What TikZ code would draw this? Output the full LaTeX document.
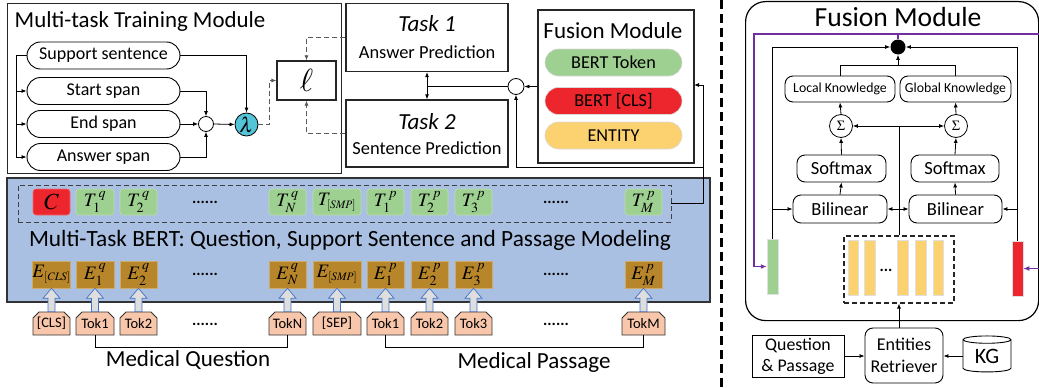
\documentclass[tikz,border=0pt]{standalone}
\usepackage{mathptmx}
\usepackage[no-math]{fontspec}
\setmainfont{Carlito}
\usetikzlibrary{arrows.meta,shapes.misc,shapes.geometric,calc}
\definecolor{bluebg}{RGB}{170,192,226}
\definecolor{tokgreen}{RGB}{158,208,145}
\definecolor{tokred}{RGB}{236,38,44}
\definecolor{tokyellow}{RGB}{252,210,112}
\definecolor{embgold}{RGB}{184,134,42}
\definecolor{toksalmon}{RGB}{248,198,170}
\definecolor{lamcyan}{RGB}{84,196,216}
\definecolor{purp}{RGB}{112,48,160}
\definecolor{arrblue}{RGB}{68,114,196}
\definecolor{dashgray}{RGB}{90,90,90}
\newcommand\fsz[1]{\fontsize{#1}{#1}\selectfont}
\newcommand\blockup[2]{%
  \path[draw=arrblue,fill=black!13,line width=0.7pt] let \p1=(#1.north), \p2=(#2.south) in
   (\x1-3.5pt,\y1) -- (\x1-3.5pt,\y2-10pt) -- (\x1-8.5pt,\y2-10pt) -- (\x1,\y2) --
   (\x1+8.5pt,\y2-10pt) -- (\x1+3.5pt,\y2-10pt) -- (\x1+3.5pt,\y1) -- cycle;}
\newcommand\ssub[1]{_{\scriptscriptstyle[\mathit{#1}]}}
\begin{document}
\begin{tikzpicture}[x=1pt,y=-1pt,
  >={Latex[length=5pt,width=4pt]},
  line width=0.8pt,
  box/.style={draw=black!85,line width=1.3pt,inner sep=0pt},
  pill/.style={draw,line width=0.9pt,rounded corners=13.5pt,minimum width=153pt,minimum height=27pt,inner sep=0pt,font=\fsz{18}},
  fpill/.style={draw=black!15,line width=0.6pt,rounded corners=13.5pt,minimum width=137pt,minimum height=27pt,inner sep=0pt,font=\fsz{18.2}},
  ttok/.style={fill=tokgreen,draw=tokgreen!70!white,line width=0.6pt,rounded corners=3pt,minimum height=26pt,inner sep=0pt,font=\fsz{19}},
  etok/.style={fill=embgold,draw=embgold!70!white,line width=0.6pt,minimum height=27pt,inner sep=0pt,font=\fsz{19}},
  ktok/.style={chamfered rectangle,chamfered rectangle corners={north west,north east},chamfered rectangle xsep=3pt,chamfered rectangle ysep=3pt,fill=toksalmon,draw=black!80,line width=0.8pt,minimum height=23pt,inner sep=0pt,font=\fsz{14.5}},
  dotsl/.style={font=\fsz{16}\bfseries},
  dsh/.style={draw=dashgray,dash pattern=on 5pt off 3pt,line width=0.9pt},
  rbox/.style={draw,line width=0.9pt,rounded corners=8pt,inner sep=0pt},
  bar/.style={draw=black!12,line width=0.5pt,inner sep=0pt}
]
\useasboundingbox (0,0) rectangle (1039,388);
% ---------------- Multi-task training module
\node[box,minimum width=334pt,minimum height=170pt,anchor=north west] (mtm) at (7,3) {};
\node[anchor=west,font=\fsz{22.9}] (mtmt) at (11,22) {Multi-task Training Module};
\node[pill] (ss) at (103.5,55.5) {Support sentence};
\node[pill] (st) at (103.5,91) {Start span};
\node[pill] (es) at (103.5,124) {End span};
\node[pill] (as) at (103.5,157) {Answer span};
\coordinate (bus) at (16,55.5);
\draw (ss.west) -- (bus) -- (bus |- as) edge[->] (as.west);
\draw[->] (bus |- st) -- (st.west);
\draw[->] (bus |- es) -- (es.west);
\node[circle,draw,line width=0.8pt,minimum size=15pt,inner sep=0pt] (o1) at (206,124) {};
\node[circle,draw,line width=0.8pt,fill=lamcyan,minimum size=23pt,inner sep=0pt,font=\fsz{21}] (lam) at (246.5,124.5) {$\lambda$};
\draw[->] (ss.east) -| (lam.north);
\draw[->] (st.east) -| (o1.north);
\draw[->] (as.east) -| (o1.south);
\draw[->] (es.east) -- (o1.west);
\draw[->] (o1.east) -- (lam.west);
\node[box,line width=1.1pt,minimum width=59pt,minimum height=39pt,font=\fsz{32}] (lbox) at (306.5,80.5) {$\ell$};
% ---------------- tasks
\node[box,minimum width=162pt,minimum height=68pt] (task1) at (427,37.5) {};
\node[font=\fsz{23}\itshape] (t1a) at (427,24) {Task 1};
\node[font=\fsz{18.4}] (t1b) at (427,52) {Answer Prediction};
\node[box,minimum width=162pt,minimum height=67pt] (task2) at (427,133.5) {};
\node[font=\fsz{23}\itshape] (t2a) at (427,122) {Task 2};
\node[font=\fsz{18.4}] (t2b) at (427,148) {Sentence Prediction};
\draw[dsh,->] (task1.west) -| (lbox.north);
\draw[dsh,->] (task2.west) -| (lbox.south);
\draw[dsh,->] (lam.east) -- ++(11,0) |- (lbox.west);
\draw[<->] (task1.south) -- (task2.north);
% ---------------- middle fusion module
\node[box,minimum width=156pt,minimum height=153pt] (fus) at (616,86.5) {};
\node[font=\fsz{23}] (fust) at (613,31) {Fusion Module};
\node[fpill,fill=tokgreen] (fp1) at (613.5,62.5) {BERT Token};
\node[fpill,fill=tokred] (fp2) at (613.5,101) {BERT [CLS]};
\node[fpill,fill=tokyellow] (fp3) at (613.5,135.5) {ENTITY};
\node[circle,draw,line width=0.8pt,minimum size=16pt,inner sep=0pt,fill=white] (o2) at (516,86.5) {};
\coordinate (tj) at (427,86.5);
\draw (tj) -- (o2.west);
\draw[->] (fus.west) -- (o2.east);
% ---------------- BERT block
\node[fill=bluebg,draw=black!80,line width=1.3pt,minimum width=703pt,minimum height=124pt,inner sep=0pt] (bert) at (358.5,240) {};
\node[dsh,draw=black!75,minimum width=653pt,minimum height=37pt,inner sep=0pt] (trow) at (344.5,203.5) {};
\node[font=\fsz{23.3}] (bertt) at (350,240) {Multi-Task BERT: Question, Support Sentence and Passage Modeling};
\foreach \i/\x/\w/\t/\e in {
 2/95/38/{$T_1^{\,q}$}/{$E_1^{\,q}$},
 3/138.5/37/{$T_2^{\,q}$}/{$E_2^{\,q}$},
 4/287.5/37/{$T_N^{\,q}$}/{$E_N^{\,q}$},
 5/337/48/{$T\ssub{SMP}$}/{$E\ssub{SMP}$},
 6/385.5/37/{$T_1^{\,p}$}/{$E_1^{\,p}$},
 7/429.5/37/{$T_2^{\,p}$}/{$E_2^{\,p}$},
 8/473.5/37/{$T_3^{\,p}$}/{$E_3^{\,p}$},
 9/643.5/37/{$T_M^{\,p}$}/{$E_M^{\,p}$}}{
  \node[ttok,minimum width=\w pt] (t\i) at (\x,202) {\t};
  \node[etok,minimum width=\w pt] (e\i) at (\x,274.5) {\e};
}
\node[ttok,fill=tokred,draw=tokred!70!white,minimum width=37pt,font=\fsz{23}] (t1) at (51.5,202) {$C$};
\node[etok,minimum width=37pt] (e1) at (51.5,274.5) {$E\ssub{CLS}$};
\foreach \i/\x/\w/\k in {1/51.5/37/{[CLS]},2/95/38/Tok1,3/138.5/37/Tok2,4/287.5/37/TokN,5/337/48/{[SEP]},6/385.5/37/Tok1,7/429.5/37/Tok2,8/473.5/37/Tok3,9/643.5/43/TokM}{
  \node[ktok,minimum width=\w pt] (k\i) at (\x,323.5) {\k};
}
\foreach \i in {1,...,9}{\blockup{k\i}{e\i}}
\node[dotsl] (d1) at (205,202) {......};
\node[dotsl] (d2) at (556,202) {......};
\node[dotsl] (d3) at (205,274) {......};
\node[dotsl] (d4) at (556,274) {......};
\node[dotsl] (d5) at (205,324) {......};
\node[dotsl] (d6) at (556,324) {......};
\draw (k2.south) -- ++(0,12) -| (k4.south);
\draw (k6.south) -- ++(0,12) -| (k9.south);
\node[font=\fsz{23}] (mq) at (188,360) {Medical Question};
\node[font=\fsz{23}] (mp) at (534,362) {Medical Passage};
% connection from T row to fusion
\coordinate (rj) at (703,167);
\coordinate (fusin) at (694,85);
\draw[->] (trow.east) -- (trow.east -| rj) -- (rj |- fusin) -- (fusin);
\draw[->] (rj) -| (o2.south);
% ---------------- separator
\draw[line width=2.6pt,dash pattern=on 9pt off 5pt] (721.5,0) -- (721.5,388);
% ---------------- right fusion module
\node[draw,line width=1.2pt,rounded corners=20pt,minimum width=293pt,minimum height=319pt,anchor=north west,inner sep=0pt] (bigfus) at (745,1) {};
\node[font=\fsz{27.6}] (bigt) at (898,17) {Fusion Module};
\node[circle,fill=black,minimum size=15pt,inner sep=0pt] (dot) at (898,47) {};
\node[rbox,minimum width=110pt,minimum height=26pt,font=\fsz{13.8}] (lk) at (840,89) {Local Knowledge};
\node[rbox,minimum width=111pt,minimum height=26pt,font=\fsz{13.8}] (gk) at (955.5,89) {Global Knowledge};
\node[circle,draw,line width=0.8pt,minimum size=23pt,inner sep=0pt,font=\fsz{14}] (ls) at (841,126) {$\Sigma$};
\node[circle,draw,line width=0.8pt,minimum size=23pt,inner sep=0pt,font=\fsz{14}] (rs) at (956,126) {$\Sigma$};
\node[rbox,minimum width=89pt,minimum height=27pt,font=\fsz{18.5}] (lsm) at (841.5,168.5) {Softmax};
\node[rbox,minimum width=88pt,minimum height=27pt,font=\fsz{18.5}] (rsm) at (955,168.5) {Softmax};
\node[rbox,minimum width=94pt,minimum height=28pt,font=\fsz{18.5}] (lbil) at (840,209) {Bilinear};
\node[rbox,minimum width=93pt,minimum height=28pt,font=\fsz{18.5}] (rbil) at (955.5,209) {Bilinear};
\node[bar,fill=tokgreen,minimum width=11pt,minimum height=55pt] (gbar) at (772.5,266.5) {};
\node[bar,fill=tokred,minimum width=11pt,minimum height=55pt] (rbar) at (1017.5,268.5) {};
\node[dsh,draw=black!85,line width=1.1pt,minimum width=110pt,minimum height=67pt,inner sep=0pt] (ent) at (899,269.5) {};
\foreach \i/\x in {1/853,2/869.5,3/902.5,4/920.5,5/938}{
  \node[bar,fill=tokyellow,minimum width=10.5pt,minimum height=55pt] (yb\i) at (\x,267.5) {};
}
\node[font=\fsz{16}\bfseries] (ydots) at (886,270) {...};
% knowledge to dot
\draw (lk.north) -- ++(0,-10) -| (gk.north);
\coordinate (kj) at (898,66);
\draw[->] (kj) -- (dot.south);
\draw[->] (ls.north) -- (lk.south);
\draw[->] (rs.north) -- (gk.south);
\draw[->] (lsm.north) -- (ls.south);
\draw[->] (rsm.north) -- (rs.south);
\draw[->] (lbil.north) -- (lsm.south);
\draw[->] (rbil.north) -- (rsm.south);
\coordinate (cj) at (899,126);
\draw (ent.north) -- (cj);
\draw[->] (cj) -- (ls.east);
\draw[->] (cj) -- (rs.west);
\coordinate (bj) at (899,209);
\draw[->] (bj) -- (lbil.east);
\draw[->] (bj) -- (rbil.west);
\draw[->] (gbar.north) -- (gbar.north |- dot) -- (dot.west);
\draw[->] (gbar.north |- lbil) -- (lbil.west);
\draw[->] (rbar.north) -- (rbar.north |- dot) -- (dot.east);
\draw[->] (rbar.north |- rbil) -- (rbil.east);
% purple
\coordinate (pl) at (754,34);
\coordinate (pr) at (1039,34);
\draw[purp,line width=1.3pt,-{Latex[length=6pt,width=5pt]}] (pr) -- (pl) -- (pl |- gbar.west) -- (gbar.west);
\draw[purp,line width=1.3pt] (dot.north |- pl) -- (dot.north);
\draw[purp,line width=1.3pt,-{Latex[length=6pt,width=5pt]}] (rbar.east -| pr) -- (rbar.east);
% bottom
\node[rbox,minimum width=78pt,minimum height=55pt,align=center,font=\fontsize{18}{22}\selectfont] (er) at (904,355.5) {Entities\\Retriever};
\node[draw,line width=0.9pt,minimum width=92pt,minimum height=42pt,inner sep=0pt,align=center,font=\fontsize{17.8}{21}\selectfont] (qp) at (798,356) {Question\\\& Passage};
\node[cylinder,shape border rotate=90,draw,line width=0.9pt,aspect=0.3,minimum width=48pt,minimum height=36pt,inner sep=0pt,font=\fsz{22}] (kg) at (987,356) {KG};
\draw[->] (er.north -| ent.south) -- (ent.south);
\draw[->] (qp.east) -- (qp.east -| er.west);
\draw[->] (kg.west) -- (kg.west -| er.east);
\end{tikzpicture}
\end{document}
